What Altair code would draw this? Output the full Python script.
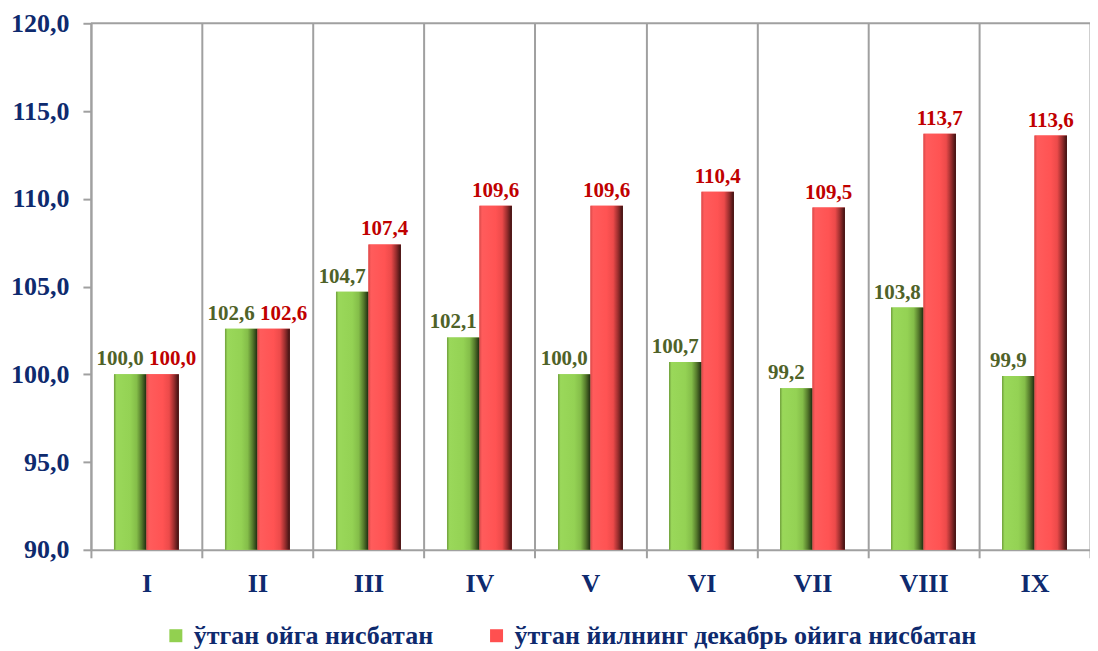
import altair as alt
import pandas as pd

months = ["I", "II", "III", "IV", "V", "VI", "VII", "VIII", "IX"]
prev_month = [100.0, 102.6, 104.7, 102.1, 100.0, 100.7, 99.2, 103.8, 99.9]
prev_dec = [100.0, 102.6, 107.4, 109.6, 109.6, 110.4, 109.5, 113.7, 113.6]
series_names = ["ўтган ойга нисбатан", "ўтган йилнинг декабрь ойига нисбатан"]
y_ticks = [90, 95, 100, 105, 110, 115, 120]
y_min, y_max = 90, 120

NAVY = "#0E2A6E"
GRID = "#A0A0A0"
FONT = "'Times New Roman', 'Liberation Serif', 'DejaVu Serif', serif"

long = pd.concat([
    pd.DataFrame({"month": months, "series": series_names[0], "value": prev_month, "other": prev_dec}),
    pd.DataFrame({"month": months, "series": series_names[1], "value": prev_dec, "other": prev_month}),
], ignore_index=True)

x_enc = alt.X(
    "month:N", sort=months,
    scale=alt.Scale(paddingInner=0, paddingOuter=0),
    axis=alt.Axis(
        title=None, labelAngle=0, tickBand="extent", grid=True, gridColor=GRID, gridWidth=2,
        domainColor=GRID, domainWidth=2, tickColor=GRID, tickWidth=2, tickSize=8,
        labelFont=FONT, labelFontSize=26, labelFontWeight="bold", labelColor=NAVY, labelPadding=13,
    ),
)
xo_enc = alt.XOffset("series:N", sort=series_names, scale=alt.Scale(paddingInner=0, paddingOuter=0.71))
y_enc = alt.Y(
    "value:Q",
    scale=alt.Scale(domain=[y_min, y_max], zero=False, nice=False),
    axis=alt.Axis(
        title=None, values=y_ticks, grid=False,
        labelExpr="replace(format(datum.value, '.1f'), '.', ',')",
        domainColor=GRID, domainWidth=2, tickColor=GRID, tickWidth=2, tickSize=8,
        labelFont=FONT, labelFontSize=26, labelFontWeight="bold", labelColor=NAVY, labelPadding=14,
    ),
)

base = alt.Chart(long).transform_calculate(
    label="replace(format(datum.value, '.1f'), '.', ',')"
)

legend_bars = base.mark_bar(strokeWidth=0).encode(
    x=x_enc, xOffset=xo_enc, y=y_enc, y2=alt.datum(y_min),
    color=alt.Color(
        "series:N",
        scale=alt.Scale(domain=series_names, range=["#92D050", "#FF5050"]),
        legend=alt.Legend(
            title=None, orient="none", legendX=72, legendY=600, direction="horizontal",
            symbolType="square", symbolSize=169, symbolStrokeWidth=0,
            labelFont=FONT, labelFontSize=26, labelFontWeight="bold", labelColor=NAVY,
            columnPadding=50, labelOffset=5, labelLimit=1000,
        ),
    ),
)

green_grad = alt.Gradient(
    gradient="linear", x1=0, x2=1, y1=0, y2=0,
    stops=[
        alt.GradientStop(color="#6f9e3c", offset=0),
        alt.GradientStop(color="#9ad85a", offset=0.08),
        alt.GradientStop(color="#94d254", offset=0.5),
        alt.GradientStop(color="#84bd49", offset=0.7),
        alt.GradientStop(color="#557a2c", offset=0.85),
        alt.GradientStop(color="#1e2a10", offset=1),
    ],
)
red_grad = alt.Gradient(
    gradient="linear", x1=0, x2=1, y1=0, y2=0,
    stops=[
        alt.GradientStop(color="#d84848", offset=0),
        alt.GradientStop(color="#ff5c5c", offset=0.08),
        alt.GradientStop(color="#ff5353", offset=0.5),
        alt.GradientStop(color="#ec4a4a", offset=0.7),
        alt.GradientStop(color="#9a2e2e", offset=0.85),
        alt.GradientStop(color="#381010", offset=1),
    ],
)

green_bars = base.transform_filter(alt.datum.series == series_names[0]).mark_bar(
    fill=green_grad, strokeWidth=0
).encode(x=x_enc, xOffset=xo_enc, y=y_enc, y2=alt.datum(y_min))
red_bars = base.transform_filter(alt.datum.series == series_names[1]).mark_bar(
    fill=red_grad, strokeWidth=0
).encode(x=x_enc, xOffset=xo_enc, y=y_enc, y2=alt.datum(y_min))

txt = dict(font=FONT, fontSize=21, fontWeight="bold", baseline="bottom", dy=-5)
green_lbl = base.transform_filter(alt.datum.series == series_names[0]).mark_text(
    dx=-10, color="#4F6228", **txt
).encode(x=x_enc, xOffset=xo_enc, y=y_enc, text="label:N")
red_lbl_eq = base.transform_filter(
    (alt.datum.series == series_names[1]) & (alt.datum.value == alt.datum.other)
).mark_text(dx=10, color="#C00000", **txt).encode(x=x_enc, xOffset=xo_enc, y=y_enc, text="label:N")
red_lbl = base.transform_filter(
    (alt.datum.series == series_names[1]) & (alt.datum.value != alt.datum.other)
).mark_text(dx=0, color="#C00000", **txt).encode(x=x_enc, xOffset=xo_enc, y=y_enc, text="label:N")

top_line = alt.Chart(pd.DataFrame({"v": [y_max]})).mark_rule(color=GRID, strokeWidth=2).encode(
    y=alt.Y("v:Q", scale=alt.Scale(domain=[y_min, y_max], zero=False, nice=False))
)

chart = alt.layer(
    legend_bars, green_bars, red_bars, top_line, green_lbl, red_lbl_eq, red_lbl
).properties(
    width=1000, height=527,
    autosize=alt.AutoSizeParams(type="none"),
    padding={"left": 83, "top": 15, "right": 0, "bottom": 100},
).configure_view(stroke=None)

chart.save("out.html", embed_options={"renderer": "svg", "actions": False})
